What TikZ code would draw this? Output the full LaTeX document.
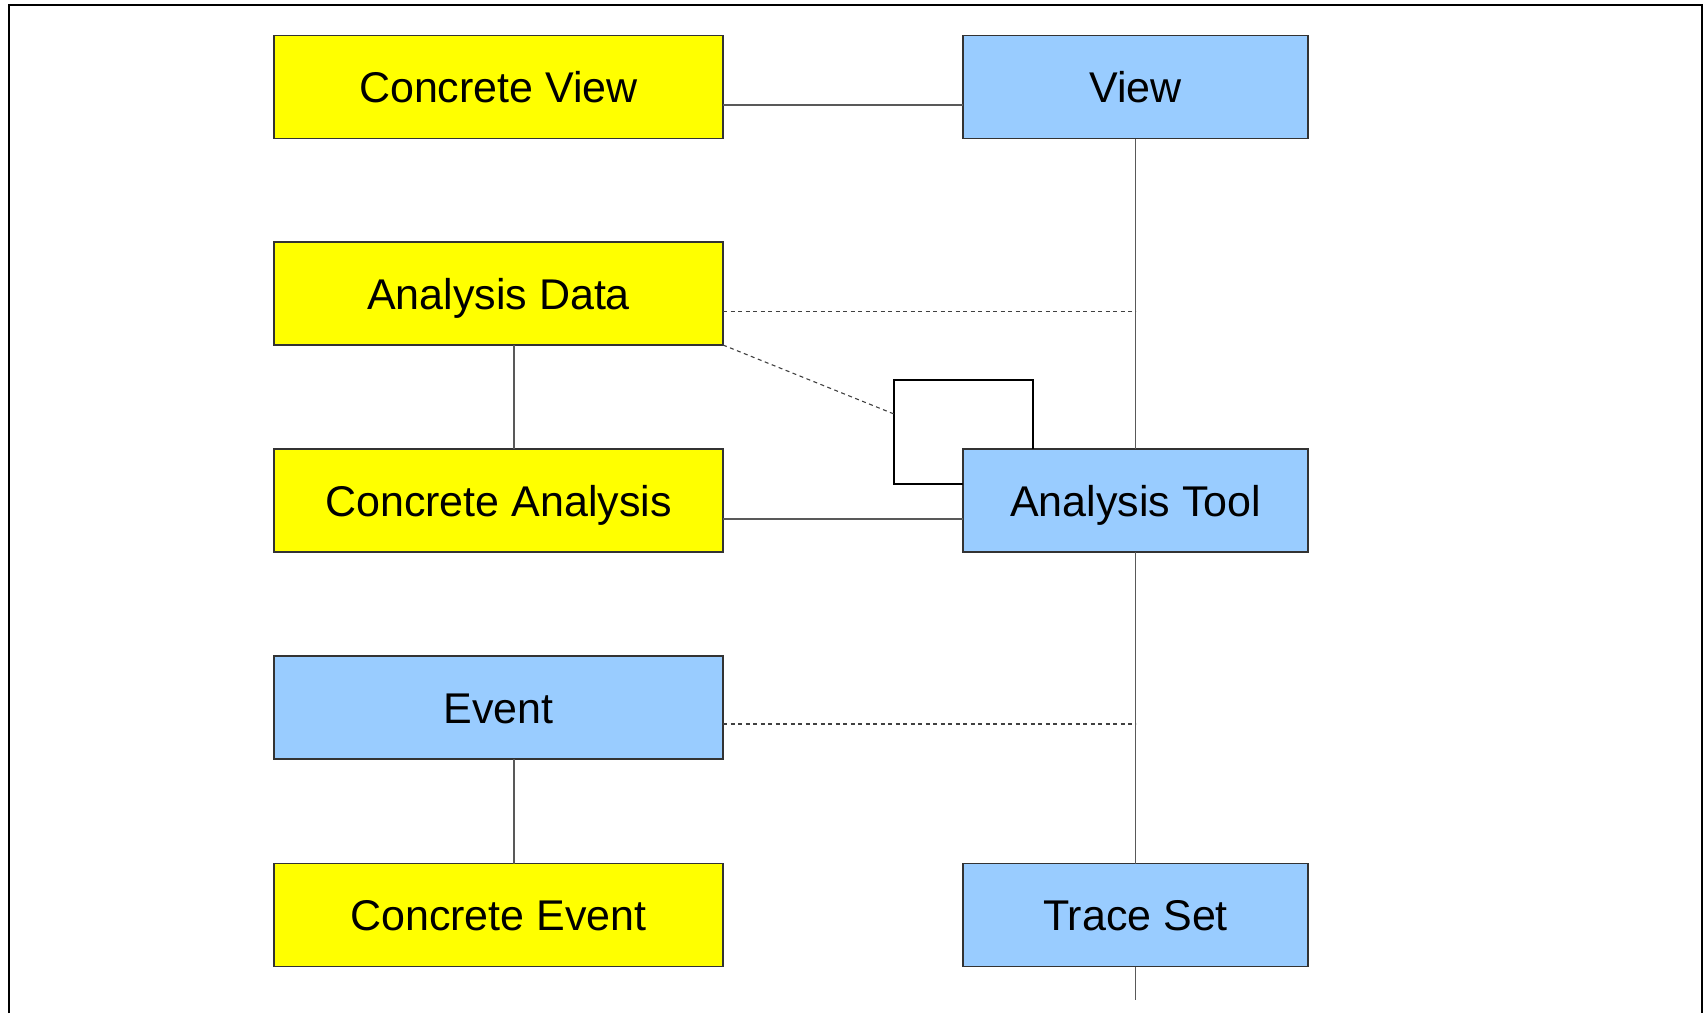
\documentclass[tikz,border=0pt]{standalone}
\usepackage{fontspec}
\setmainfont{Liberation Sans}
\usetikzlibrary{calc}

\definecolor{classyellow}{HTML}{FFFF00}
\definecolor{classblue}{HTML}{99CCFF}

\tikzset{
  classbox/.style={draw=black!80, line width=1.4pt, inner sep=0pt, outer sep=0pt,
    minimum height=103pt, text height=31pt, text depth=0pt,
    font=\fontsize{43}{51}\selectfont},
  leftbox/.style={classbox, minimum width=449pt},
  rightbox/.style={classbox, minimum width=345pt},
  link/.style={draw=black!65, line width=1.2pt},
  dep/.style={draw=black!75, line width=1.1pt, dash pattern=on 4pt off 3.5pt}
}

\begin{document}
\begin{tikzpicture}[x=1pt,y=-1pt]
            \useasboundingbox (0,0) rectangle (1708,1013);
            \draw[line width=2pt] (9,1013) -- (9,5) -- (1702,5) -- (1702,1013);

            \node[leftbox,fill=classyellow] (cv) at (498.5,87) {Concrete View};
            \node[leftbox,fill=classyellow] (ad) at (498.5,293.5) {Analysis Data};
            \node[leftbox,fill=classyellow] (ca) at (498.5,500.5) {Concrete Analysis};
            \node[leftbox,fill=classblue] (ev) at (498.5,707.5) {Event};
            \node[leftbox,fill=classyellow] (ce) at (498.5,915) {Concrete Event};

            \node[rightbox,fill=classblue] (v) at (1135.5,87) {View};
            \node[rightbox,fill=classblue] (at) at (1135.5,500.5) {Analysis Tool};
            \node[rightbox,fill=classblue] (ts) at (1135.5,915) {Trace Set};

            \coordinate (tsend) at (1135.5,1000);

            \draw[link] ([yshift=-18pt]cv.east) -- ([yshift=-18pt]v.west);
            \draw[link] (v.south) -- (at.north);
            \draw[link] (at.south) -- (ts.north);
            \draw[link] (ts.south) -- (tsend);

            \draw[link] ([xshift=15.5pt]ad.south) -- ([xshift=15.5pt]ca.north);
            \draw[link] ([xshift=15.5pt]ev.south) -- ([xshift=15.5pt]ce.north);
            \draw[link] ([yshift=-18.5pt]ca.east) -- ([yshift=-18.5pt]at.west);

            \draw[dep] ([yshift=-18pt]ad.east) -- ([yshift=-18pt]ad.east -| v.south);
            \draw[dep] ([yshift=-16.5pt]ev.east) -- ([yshift=-16.5pt]ev.east -| v.south);

            \draw[line width=1.2pt] ([xshift=-102.5pt]at.north) -- ++(0,-69)
                  -- ++(-139,0) coordinate (loop) -- ++(0,104) coordinate (loopend)
                  -- (loopend -| at.west);
            \draw[dep] (ad.south east) -- ([yshift=-34pt]loop);
\end{tikzpicture}
\end{document}
